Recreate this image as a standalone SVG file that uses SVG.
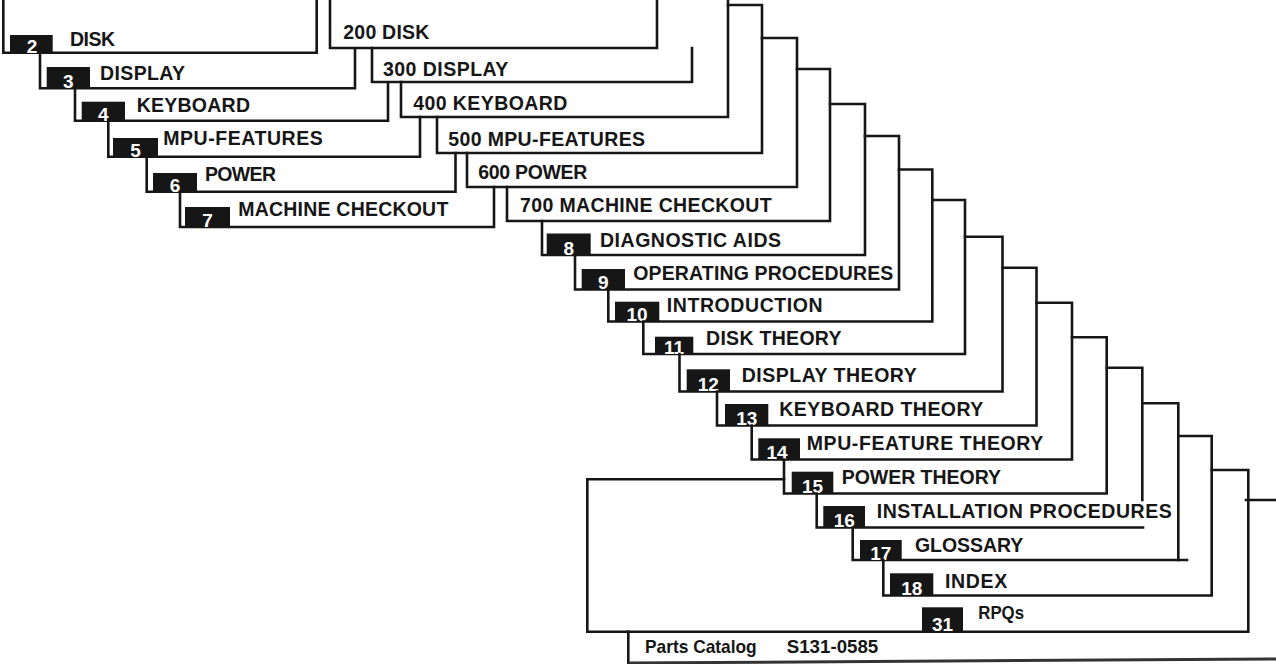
<svg xmlns="http://www.w3.org/2000/svg" width="1276" height="664" viewBox="0 0 1276 664">
<style>
.o{fill:none;stroke:#161616;stroke-width:2.6;stroke-linecap:square;stroke-linejoin:miter}
.tab{fill:#161616}
.l{font-family:"Liberation Sans",Arial,sans-serif;font-weight:bold;font-size:19.5px;fill:#161616}
.n{font-family:"Liberation Sans Narrow","Liberation Sans",Arial,sans-serif;font-weight:bold;font-size:19px;fill:#fff;text-anchor:middle}
.c{font-family:"Liberation Sans Narrow","Liberation Sans",Arial,sans-serif;font-weight:bold;font-size:18.5px;fill:#161616}
</style>
<rect x="0" y="0" width="1276" height="664" fill="#fff"/>

<!-- left column -->
<g id="tab-2">
<path class="o" d="M3.3,0 V52.7 H316.7 V0"/>
<rect class="tab" x="10" y="35" width="42.7" height="17.7"/>
<text class="n" x="32" y="52.5">2</text>
<text class="l" x="70" y="46" textLength="45" lengthAdjust="spacing">DISK</text>
</g>
<g id="tab-3">
<path class="o" d="M40,52.7 V88.3 H355 V50"/>
<rect class="tab" x="46.7" y="67" width="43.3" height="21.3"/>
<text class="n" x="68.3" y="88">3</text>
<text class="l" x="100" y="80" textLength="85" lengthAdjust="spacing">DISPLAY</text>
</g>
<g id="tab-4">
<path class="o" d="M75,88.3 V120.7 H388 V83"/>
<rect class="tab" x="81.7" y="101.7" width="43.3" height="19"/>
<text class="n" x="103.3" y="120.5">4</text>
<text class="l" x="136.7" y="111.7" textLength="113.3" lengthAdjust="spacing">KEYBOARD</text>
</g>
<g id="tab-5">
<path class="o" d="M108.3,120.7 V156.7 H420 V117"/>
<rect class="tab" x="113" y="138" width="45" height="18.7"/>
<text class="n" x="135.5" y="156.5">5</text>
<text class="l" x="163.3" y="145" textLength="159.4" lengthAdjust="spacing">MPU-FEATURES</text>
</g>
<g id="tab-6">
<path class="o" d="M146.7,156.7 V191.7 H455.5 V153"/>
<rect class="tab" x="153" y="173" width="44" height="18.7"/>
<text class="n" x="175" y="191.5">6</text>
<text class="l" x="205" y="180.7" textLength="71" lengthAdjust="spacing">POWER</text>
</g>
<g id="tab-7">
<path class="o" d="M180,191.7 V227 H494 V187"/>
<rect class="tab" x="185" y="207" width="45" height="20"/>
<text class="n" x="207.5" y="226.5">7</text>
<text class="l" x="238.3" y="216" textLength="210" lengthAdjust="spacing">MACHINE CHECKOUT</text>
</g>

<!-- right column -->
<g id="sec-200">
<path class="o" d="M330,0 V48 H657 V0"/>
<text class="l" x="343.3" y="39.3" textLength="86" lengthAdjust="spacing">200 DISK</text>
</g>
<g id="sec-300">
<path class="o" d="M372,48 V82 H692 V48"/>
<text class="l" x="383" y="76" textLength="125.3" lengthAdjust="spacing">300 DISPLAY</text>
</g>
<g id="sec-400">
<path class="o" d="M401,82 V117 H728 V0"/>
<text class="l" x="413.3" y="110" textLength="154" lengthAdjust="spacing">400 KEYBOARD</text>
</g>
<g id="sec-500">
<path class="o" d="M437,117 V153 H762 V5 H728"/>
<text class="l" x="448.3" y="145.7" textLength="196.7" lengthAdjust="spacing">500 MPU-FEATURES</text>
</g>
<g id="sec-600">
<path class="o" d="M467,153 V187 H797 V38 H762"/>
<text class="l" x="478.3" y="179" textLength="109" lengthAdjust="spacing">600 POWER</text>
</g>
<g id="sec-700">
<path class="o" d="M507,187 V221 H830 V69 H797"/>
<text class="l" x="520" y="212.3" textLength="251.7" lengthAdjust="spacing">700 MACHINE CHECKOUT</text>
</g>
<g id="tab-8">
<path class="o" d="M542,221 V255 H865 V104 H830"/>
<rect class="tab" x="546.7" y="233.5" width="44" height="21.5"/>
<text class="n" x="568.7" y="254.5">8</text>
<text class="l" x="600" y="246.7" textLength="181" lengthAdjust="spacing">DIAGNOSTIC AIDS</text>
</g>
<g id="tab-9">
<path class="o" d="M575,255 V289.5 H899 V136 H865"/>
<rect class="tab" x="581.7" y="269" width="43.3" height="20.5"/>
<text class="n" x="603.3" y="289">9</text>
<text class="l" x="633.3" y="280" textLength="260" lengthAdjust="spacing">OPERATING PROCEDURES</text>
</g>
<g id="tab-10">
<path class="o" d="M608.3,289.5 V321.5 H932.3 V169.5 H899"/>
<rect class="tab" x="615" y="301.7" width="44.3" height="19.8"/>
<text class="n" x="637" y="321">10</text>
<text class="l" x="666.7" y="312.3" textLength="156" lengthAdjust="spacing">INTRODUCTION</text>
</g>
<g id="tab-11">
<path class="o" d="M643.3,321.5 V354 H965 V200 H932.3"/>
<rect class="tab" x="655" y="336.7" width="38.3" height="17.3"/>
<text class="n" x="674" y="353.5">11</text>
<text class="l" x="706" y="345" textLength="135.5" lengthAdjust="spacing">DISK THEORY</text>
</g>
<g id="tab-12">
<path class="o" d="M679.5,354 V391.5 H1002.5 V236.7 H965"/>
<rect class="tab" x="686.7" y="369.3" width="43.3" height="22.2"/>
<text class="n" x="708.3" y="391">12</text>
<text class="l" x="741.7" y="381.7" textLength="175" lengthAdjust="spacing">DISPLAY THEORY</text>
</g>
<g id="tab-13">
<path class="o" d="M717,391.5 V425.5 H1036.5 V267.7 H1002.5"/>
<rect class="tab" x="725" y="404" width="43.3" height="21.5"/>
<text class="n" x="746.7" y="425">13</text>
<text class="l" x="779.3" y="416" textLength="204" lengthAdjust="spacing">KEYBOARD THEORY</text>
</g>
<g id="tab-14">
<path class="o" d="M751.7,425.5 V459.5 H1072 V302.7 H1036.5"/>
<rect class="tab" x="758.3" y="438.3" width="41.7" height="21.2"/>
<text class="n" x="777" y="459">14</text>
<text class="l" x="806.7" y="450" textLength="236.6" lengthAdjust="spacing">MPU-FEATURE THEORY</text>
</g>
<g id="tab-15">
<path class="o" d="M784,459.5 V493.5 H1106.7 V337.3 H1072"/>
<rect class="tab" x="791.7" y="471.7" width="41.6" height="21.8"/>
<text class="n" x="812.5" y="493">15</text>
<text class="l" x="841.7" y="484" textLength="159.3" lengthAdjust="spacing">POWER THEORY</text>
</g>
<g id="tab-16">
<path class="o" d="M816.7,493.5 V527.5 H1143"/>
<path class="o" d="M1142.3,500 V367.7 H1106.7"/>
<rect class="tab" x="823.3" y="506" width="41.7" height="21.5"/>
<text class="n" x="844.2" y="527">16</text>
<text class="l" x="876.7" y="518" textLength="295" lengthAdjust="spacing">INSTALLATION PROCEDURES</text>
</g>
<g id="tab-17">
<path class="o" d="M852.7,527.5 V560 H1187"/>
<path class="o" d="M1178.3,560 V403.3 H1142.3"/>
<rect class="tab" x="860" y="540" width="41.7" height="20"/>
<text class="n" x="880.8" y="559.5">17</text>
<text class="l" x="915" y="552" textLength="108.3" lengthAdjust="spacing">GLOSSARY</text>
</g>
<g id="tab-18">
<path class="o" d="M883.3,560 V595.5 H1211.7 V436 H1178.3"/>
<rect class="tab" x="890" y="573.3" width="43.3" height="22.2"/>
<text class="n" x="911.7" y="595">18</text>
<text class="l" x="945" y="588.3" textLength="62.3" lengthAdjust="spacing">INDEX</text>
</g>
<g id="tab-31">
<path class="o" d="M784,479.3 H587.3 V631.7 H1248.3 V470 H1211.7"/>
<rect class="tab" x="922" y="607.3" width="41" height="24.4"/>
<text class="n" x="942.5" y="630.5">31</text>
<text class="c" x="978.3" y="619.3" textLength="45.7" lengthAdjust="spacingAndGlyphs">RPQs</text>
</g>
<g id="parts-catalog">
<path class="o" d="M628.3,631.7 V664"/>
<path d="M628.3,663 L1276,659" fill="none" stroke="#333" stroke-width="3"/>
<text class="c" x="645" y="653.3" textLength="111.7" lengthAdjust="spacingAndGlyphs">Parts Catalog</text>
<text class="c" x="786.7" y="653.3" textLength="91.6" lengthAdjust="spacingAndGlyphs">S131-0585</text>
</g>

<g id="connectors">
<path class="o" d="M1246,500 H1276"/>
</g>
</svg>
